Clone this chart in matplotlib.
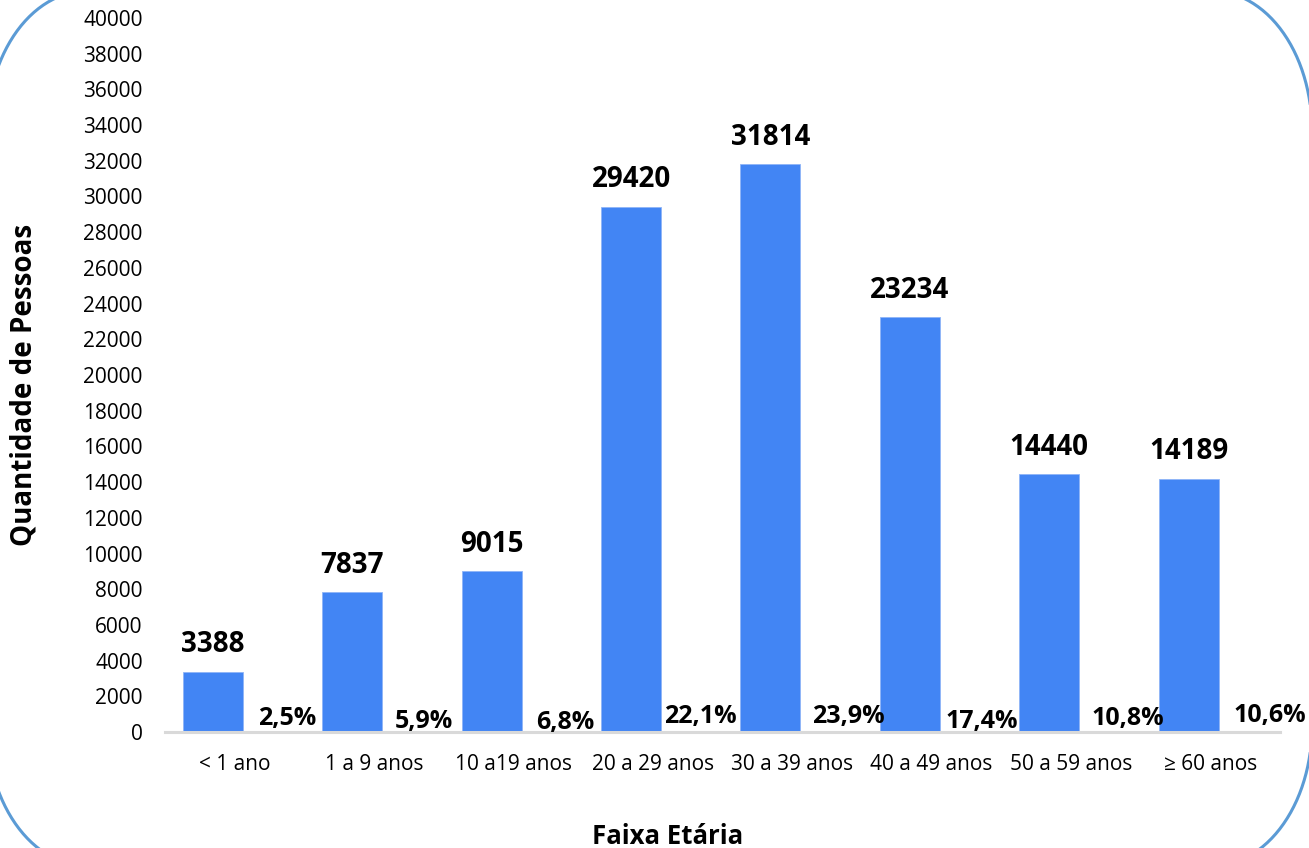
import numpy as np
import matplotlib.pyplot as plt

categories = ['< 1 ano', '1 a 9 anos', '10 a19 anos', '20 a 29 anos',
              '30 a 39 anos', '40 a 49 anos', '50 a 59 anos', '≥ 60 anos']
counts = [3388, 7837, 9015, 29420, 31814, 23234, 14440, 14189]
percents = ['2,5%', '5,9%', '6,8%', '22,1%', '23,9%', '17,4%', '10,8%', '10,6%']

# where the percentage labels sit (hand placed in the original)
pct_dx = [0.375, 0.36, 0.37, 0.34, 0.40, 0.36, 0.41, 0.43]
pct_y = [390, 220, 170, 500, 500, 220, 390, 560]

plt.rcParams['font.family'] = ['Open Sans', 'DejaVu Sans']

fig = plt.figure(figsize=(13.09, 8.48), dpi=100)

# rounded frame (elliptical corners), mostly outside the picture
bg = fig.add_axes([0, 0, 1, 1], zorder=-1)
bg.set_xlim(0, 1309)
bg.set_ylim(848, 0)
bg.axis('off')
rx, ry = 100, 140
corners = [((87, 131), 180, 90), ((1212, 131), 90, 0),
           ((1212, 726), 0, -90), ((87, 726), -90, -180)]
fx, fy = [], []
for (cx, cy), t0, t1 in corners:
    t = np.radians(np.linspace(t0, t1, 60))
    fx.extend(cx + rx * np.cos(t))
    fy.extend(cy - ry * np.sin(t))
fx.append(fx[0])
fy.append(fy[0])
bg.plot(fx, fy, color='#5b9bd5', linewidth=2.2)

ax = fig.add_axes([165/1309, 1-732/848, 1115/1309, 714/848])
ax.patch.set_alpha(0)

x = range(len(categories))
bar_x = [i - 0.156 for i in x]
ax.bar(bar_x, counts, width=0.43, color='#4285f4', edgecolor='#8fb5f7', linewidth=0.6)

for bx, c in zip(bar_x, counts):
    ax.annotate(str(c), (bx, c), xytext=(0, 14), textcoords='offset points',
                ha='center', va='baseline', fontsize=20, fontweight='bold')

for i, p in enumerate(percents):
    ax.text(i + pct_dx[i], pct_y[i], p, ha='center', va='baseline',
            fontsize=18, fontweight='bold')

ax.set_xlim(-0.5, 7.5)
ax.set_ylim(0, 40000)
ax.set_yticks(range(0, 40001, 2000))
ax.set_xticks(list(x))
ax.set_xticklabels(categories)
ax.tick_params(axis='both', length=0, labelsize=15)
ax.tick_params(axis='y', pad=16)
ax.tick_params(axis='x', pad=16)

for s in ['top', 'right', 'left']:
    ax.spines[s].set_visible(False)
ax.spines['bottom'].set_color('#d9d9d9')
ax.spines['bottom'].set_linewidth(2.2)

fig.text(668/1309, 1-836/848, 'Faixa Etária', ha='center', va='center',
         fontsize=18.5, fontweight='bold')
fig.text(24/1309, 1-385/848, 'Quantidade de Pessoas', ha='center', va='center',
         rotation=90, fontsize=20, fontweight='bold')

fig.savefig('out.png', dpi=100)
